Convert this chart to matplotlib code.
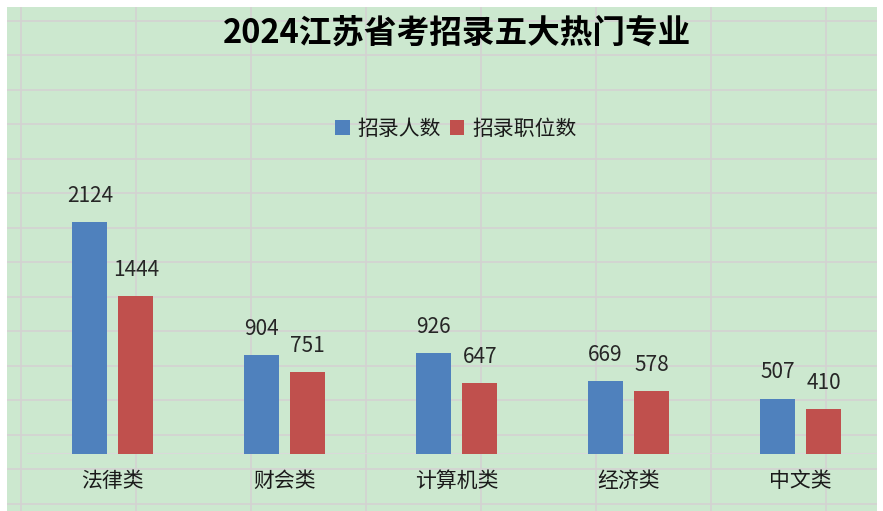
import matplotlib
matplotlib.use("Agg")
import matplotlib.pyplot as plt
import matplotlib.transforms as mtransforms
import numpy as np

plt.rcParams['font.family'] = ['Noto Sans CJK SC', 'DejaVu Sans']

# Data
categories = ["法律类", "财会类", "计算机类", "经济类", "中文类"]
series_names = ["招录人数", "招录职位数"]
hires = [2124, 904, 926, 669, 507]
positions = [1444, 751, 647, 578, 410]
title = "2024江苏省考招录五大热门专业"

W, H = 883, 511
DPI = 100
fig = plt.figure(figsize=(W / DPI, H / DPI), dpi=DPI)
fig.patch.set_facecolor("white")

# Sheet-style backdrop: green cells with light gray cell borders
bg = fig.add_axes([0, 0, 1, 1])
bg.set_xlim(0, W)
bg.set_ylim(H, 0)
bg.axis("off")
bg.add_patch(plt.Rectangle((7, 7), 870, 504, facecolor="#CCE8CF", edgecolor="none"))
for gx in np.arange(21, 877, 115.0):
    bg.plot([gx, gx], [7, 511], color="#D4D2D2", lw=1.2, solid_capstyle="butt")
for gy in np.arange(21, 511, 34.5):
    bg.plot([7, 877], [gy, gy], color="#D4D2D2", lw=1.2, solid_capstyle="butt")

# Plot area in pixel geometry
left_px, right_px = 27, 877
base_px, top_px = 454, 7
px_per_unit = 0.10937
cat_step_px = 171.9

ax = fig.add_axes([left_px / W, (H - base_px) / H,
                   (right_px - left_px) / W, (base_px - top_px) / H])
ax.set_facecolor("none")
ax.set_xlim(-0.5, -0.5 + (right_px - left_px) / cat_step_px)
ax.set_ylim(0, (base_px - top_px) / px_per_unit)
for s in ax.spines.values():
    s.set_visible(False)
ax.set_xticks([])
ax.set_yticks([])
ax.axhline(0, color="#D9D9D9", lw=1.5, zorder=1)

x = np.arange(len(categories))
bw = 35 / cat_step_px
off = 23 / cat_step_px
b1 = ax.bar(x - off, hires, width=bw, color="#4F81BD", label=series_names[0], zorder=2)
b2 = ax.bar(x + off, positions, width=bw, color="#C0504D", label=series_names[1], zorder=2)

# Value labels above bars
for bars, vals in ((b1, hires), (b2, positions)):
    for rect, v in zip(bars, vals):
        ax.annotate(f"{v}", (rect.get_x() + rect.get_width() / 2, v),
                    xytext=(0, 14.5), textcoords="offset points",
                    ha="center", va="baseline", fontsize=15, color="#262626")

# Category labels under the axis line
trans = mtransforms.blended_transform_factory(ax.transData, ax.transAxes)
for xi, c in zip(x, categories):
    ax.annotate(c, (xi, 0), xycoords=trans, xytext=(0, -19.5), textcoords="offset points",
                ha="center", va="center", fontsize=15, color="#1A1A1A")

# Legend
leg = ax.legend(loc="center", bbox_to_anchor=(456 / W, 1 - 129 / H),
                bbox_transform=fig.transFigure, ncol=2, frameon=False,
                fontsize=15, handlelength=0.7, handleheight=0.7,
                handletextpad=0.4, columnspacing=0.4, borderpad=0)
for t in leg.get_texts():
    t.set_color("#1A1A1A")

# Title
fig.text(457 / W, 1 - 33 / H, title, ha="center", va="center",
         fontsize=23.5, fontweight="bold", color="#000000")

fig.savefig("out.png", dpi=DPI)
